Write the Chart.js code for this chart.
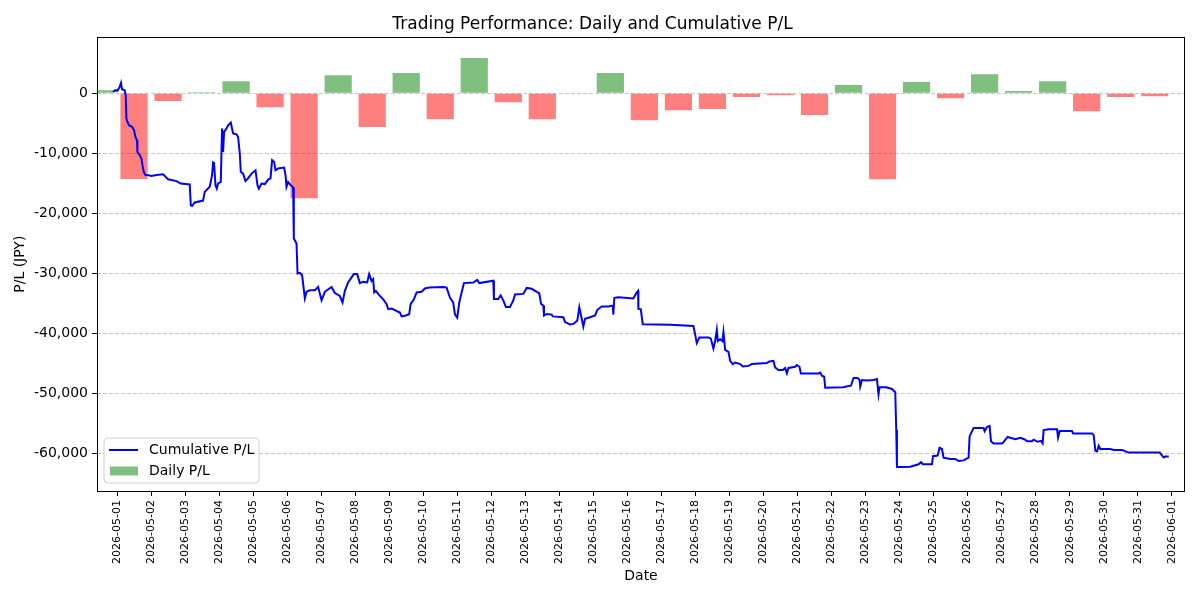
<!DOCTYPE html>
<html><head><meta charset="utf-8">
<script src="https://cdn.jsdelivr.net/npm/chart.js@4.4.1/dist/chart.umd.min.js"></script>
<style>html,body{margin:0;padding:0;background:#fff;}#wrap{width:1200px;height:600px;}</style>
</head><body><div id="wrap"><canvas id="c" width="1200" height="600"></canvas></div>
<script>
const barDates = ['2026-04-30','2026-05-01','2026-05-02','2026-05-03','2026-05-04','2026-05-05','2026-05-06','2026-05-07','2026-05-08','2026-05-09','2026-05-10','2026-05-11','2026-05-12','2026-05-13','2026-05-14','2026-05-15','2026-05-16','2026-05-17','2026-05-18','2026-05-19','2026-05-20','2026-05-21','2026-05-22','2026-05-23','2026-05-24','2026-05-25','2026-05-26','2026-05-27','2026-05-28','2026-05-29','2026-05-30','2026-05-31'];
const dailyPL = [500,-14300,-1300,150,2000,-2350,-17500,3000,-5650,3350,-4350,5850,-1500,-4350,0,3350,-4500,-2850,-2650,-650,-350,-3650,1350,-14350,1850,-850,3150,350,2000,-3000,-650,-500];
const tickLabels = ['2026-05-01','2026-05-02','2026-05-03','2026-05-04','2026-05-05','2026-05-06','2026-05-07','2026-05-08','2026-05-09','2026-05-10','2026-05-11','2026-05-12','2026-05-13','2026-05-14','2026-05-15','2026-05-16','2026-05-17','2026-05-18','2026-05-19','2026-05-20','2026-05-21','2026-05-22','2026-05-23','2026-05-24','2026-05-25','2026-05-26','2026-05-27','2026-05-28','2026-05-29','2026-05-30','2026-05-31','2026-06-01'];
const yTicks = [0,-10000,-20000,-30000,-40000,-50000,-60000];
// cumulative P/L: time in days since 2026-05-01 00:00, value in JPY
const cumTimes = [-0.118,-0.047,0.012,0.079,0.118,0.147,0.226,0.256,0.276,0.306,0.353,0.441,0.5,0.541,0.588,0.6,0.668,0.718,0.747,0.785,0.835,0.894,1.012,1.159,1.353,1.432,1.5,1.747,1.874,2.138,2.168,2.206,2.285,2.529,2.579,2.726,2.794,2.824,2.853,2.894,2.932,2.971,3.05,3.088,3.118,3.147,3.218,3.265,3.344,3.412,3.512,3.559,3.609,3.638,3.706,3.776,3.853,3.953,4.071,4.129,4.168,4.247,4.344,4.441,4.512,4.559,4.618,4.659,4.735,4.912,4.953,4.982,5.029,5.109,5.176,5.197,5.276,5.306,5.374,5.441,5.521,5.571,5.668,5.815,5.912,6.012,6.109,6.306,6.403,6.55,6.629,6.697,6.794,6.894,6.962,7.059,7.138,7.235,7.353,7.412,7.482,7.529,7.559,7.609,7.706,7.824,7.924,7.971,8.071,8.218,8.315,8.365,8.462,8.588,8.629,8.726,8.806,8.953,9.05,9.176,9.588,9.688,9.785,9.882,9.932,10.0,10.059,10.129,10.197,10.471,10.588,10.647,11.059,11.079,11.206,11.276,11.353,11.432,11.55,11.647,11.697,11.941,12.041,12.188,12.412,12.462,12.529,12.55,12.629,12.776,12.806,13.118,13.168,13.315,13.412,13.529,13.588,13.659,13.706,13.756,13.903,14.05,14.118,14.247,14.441,14.571,14.588,14.618,14.735,15.176,15.276,15.315,15.324,15.394,15.453,16.256,16.941,16.991,17.041,17.118,17.382,17.453,17.529,17.579,17.629,17.659,17.726,17.794,17.824,17.874,17.971,18.021,18.1,18.168,18.315,18.394,18.559,18.659,19.0,19.1,19.176,19.294,19.344,19.441,19.571,19.638,19.688,19.735,19.932,19.982,20.059,20.1,20.618,20.668,20.718,20.785,20.815,21.353,21.432,21.571,21.647,21.765,21.824,21.844,21.894,22.041,22.235,22.335,22.382,22.412,22.609,22.776,22.874,22.903,22.924,23.071,23.315,23.559,23.629,23.688,23.953,23.982,24.118,24.176,24.247,24.294,24.491,24.638,24.735,24.882,25.029,25.059,25.176,25.471,25.5,25.571,25.647,25.688,25.765,26.012,26.079,26.176,26.403,26.55,26.697,26.747,26.894,26.941,27.059,27.159,27.206,27.235,27.382,27.629,27.659,27.706,28.071,28.1,28.659,28.706,28.756,28.806,28.853,28.9,29.194,29.294,29.541,29.638,29.735,30.647,30.718,30.765,30.815,30.912];
const cumValues = [200,500,400,1050,1700,650,500,-350,-4200,-4800,-5350,-5600,-6150,-7300,-7850,-9800,-10350,-10900,-12000,-13100,-13650,-13650,-13800,-13650,-13500,-13950,-14350,-14650,-15050,-15200,-18650,-18800,-18200,-17900,-16450,-15600,-13650,-11550,-11650,-15350,-15900,-15050,-14800,-5900,-9800,-6450,-5900,-5350,-4900,-6700,-6850,-7300,-10050,-13100,-13400,-14650,-14200,-13400,-12850,-15350,-15900,-15050,-15150,-14400,-14200,-11150,-11450,-12850,-12550,-12400,-13650,-15600,-14800,-15350,-15700,-24200,-25050,-30050,-29950,-30350,-34200,-33100,-32850,-32850,-32300,-34500,-33100,-32300,-33300,-33800,-34900,-32950,-31550,-30700,-30150,-30150,-31650,-31450,-31550,-30150,-31300,-31000,-33200,-32950,-33650,-34350,-35150,-36000,-35900,-36300,-36550,-37200,-37100,-36850,-35150,-34350,-33200,-33100,-32550,-32400,-32300,-32400,-34050,-34900,-36850,-37400,-34900,-33200,-31650,-31550,-31100,-31650,-31250,-34300,-34300,-33700,-34550,-35650,-35650,-34550,-33550,-33450,-32450,-32600,-33350,-35100,-35400,-37050,-36800,-36900,-37200,-37350,-38150,-38550,-38450,-37900,-35650,-37600,-38900,-37600,-37350,-37050,-36100,-35550,-35550,-35400,-36900,-34100,-34000,-34200,-33200,-32950,-35950,-36000,-38500,-38600,-38800,-40150,-41650,-40700,-40700,-40900,-42550,-41300,-39450,-41300,-41000,-41300,-39800,-42800,-43100,-44600,-45150,-44900,-45150,-45550,-45450,-45150,-45000,-44950,-44700,-44600,-45700,-46150,-46150,-45800,-46700,-45800,-45600,-45300,-45600,-46700,-46700,-46550,-47100,-47250,-49100,-49000,-48900,-48750,-47450,-47450,-47800,-48900,-47800,-47900,-47800,-47650,-50200,-49000,-49000,-49300,-49850,-56150,-62300,-62300,-62250,-61850,-61500,-61850,-61850,-60500,-60400,-59100,-59300,-60750,-60950,-60950,-61300,-61200,-60750,-57200,-55800,-55800,-56350,-55650,-55450,-58000,-58400,-58400,-58000,-57300,-57650,-57450,-57750,-58000,-58000,-57750,-58100,-57950,-58350,-56150,-56000,-56000,-57400,-56300,-56300,-56700,-56700,-57000,-59600,-59700,-58750,-59300,-59300,-59450,-59450,-59700,-59900,-59900,-60400,-60700,-60550,-60550];

const F = "'DejaVu Sans', sans-serif";
const DAY0 = Date.UTC(2026, 4, 1);
const dayOffset = s => (Date.parse(s + 'T00:00:00Z') - DAY0) / 864e5;

const framePlugin = {
  id: 'frame',
  afterDatasetsDraw(chart) {
    const {ctx, chartArea: a} = chart;
    ctx.save();
    ctx.strokeStyle = '#000';
    ctx.lineWidth = 1;
    const l = Math.round(a.left) + 0.5, t = Math.round(a.top) + 0.5;
    const r = Math.round(a.right) - 0.5, b = Math.round(a.bottom) + 0.5;
    ctx.strokeRect(l, t, r - l, b - t);
    ctx.restore();
  },
  afterDraw(chart) {
    const {ctx, chartArea: a} = chart;
    const ds = chart.data.datasets;
    const bx = a.left + 7, by = a.bottom - 53, bw = 155, bh = 45, rr = 4;
    ctx.save();
    ctx.beginPath();
    ctx.moveTo(bx + rr, by);
    ctx.arcTo(bx + bw, by, bx + bw, by + bh, rr);
    ctx.arcTo(bx + bw, by + bh, bx, by + bh, rr);
    ctx.arcTo(bx, by + bh, bx, by, rr);
    ctx.arcTo(bx, by, bx + bw, by, rr);
    ctx.closePath();
    ctx.fillStyle = 'rgba(255,255,255,0.8)';
    ctx.fill();
    ctx.strokeStyle = '#d0d0d0';
    ctx.lineWidth = 1;
    ctx.stroke();
    ctx.strokeStyle = ds[0].borderColor;
    ctx.lineWidth = 2;
    ctx.beginPath();
    ctx.moveTo(bx + 5, by + 12);
    ctx.lineTo(bx + 34, by + 12);
    ctx.stroke();
    ctx.fillStyle = 'rgba(0,128,0,0.5)';
    ctx.fillRect(bx + 6, by + 28.5, 28, 9);
    ctx.fillStyle = '#000';
    ctx.font = '14px ' + F;
    ctx.textBaseline = 'middle';
    ctx.textAlign = 'left';
    ctx.fillText(ds[0].label, bx + 45, by + 12.5);
    ctx.fillText(ds[1].label, bx + 45, by + 33.5);
    ctx.restore();
  }
};

new Chart(document.getElementById('c'), {
  type: 'bar',
  data: {
    datasets: [
      {
        type: 'line',
        label: 'Cumulative P/L',
        data: cumTimes.map((t, i) => ({x: t, y: cumValues[i]})),
        borderColor: '#0000ff',
        borderWidth: 2,
        pointRadius: 0,
        fill: false,
        tension: 0,
        order: 1
      },
      {
        type: 'bar',
        label: 'Daily P/L',
        data: barDates.map((d, i) => ({x: dayOffset(d) + 0.5, y: dailyPL[i]})),
        backgroundColor: dailyPL.map(v => v >= 0 ? 'rgba(0,128,0,0.5)' : 'rgba(255,0,0,0.5)'),
        borderWidth: 0,
        barPercentage: 0.8,
        categoryPercentage: 1,
        order: 2
      }
    ]
  },
  options: {
    responsive: false,
    animation: false,
    devicePixelRatio: 1,
    layout: {padding: {left: 0, right: 15, top: 0, bottom: 0}},
    plugins: {
      legend: {display: false},
      tooltip: {enabled: false},
      title: {
        display: true,
        text: 'Trading Performance: Daily and Cumulative P/L',
        color: '#000',
        font: {family: F, size: 17, weight: 'normal'},
        padding: {top: 14, bottom: 3}
      }
    },
    scales: {
      x: {
        type: 'linear',
        min: -0.588,
        max: 31.39,
        offset: false,
        afterBuildTicks: s => { s.ticks = tickLabels.map(l => ({value: dayOffset(l)})); },
        ticks: {
          autoSkip: false, maxRotation: 90, minRotation: 90, color: '#000',
          font: {family: F, size: 11}, padding: 4,
          callback: (v, i) => tickLabels[i]
        },
        grid: {display: true, offset: false, drawOnChartArea: false, tickLength: 5, tickColor: '#000', tickWidth: 1},
        border: {display: false},
        title: {display: true, text: 'Date', color: '#000', font: {family: F, size: 14}, padding: {top: 0, bottom: 15}},
        afterFit: s => { s.height = 109; }
      },
      y: {
        type: 'linear',
        min: -66300,
        max: 9300,
        afterBuildTicks: s => { s.ticks = yTicks.map(v => ({value: v})); },
        ticks: {
          color: '#000', font: {family: F, size: 14}, padding: 4,
          callback: v => Number(v).toLocaleString('en-US')
        },
        grid: {color: '#c8c8c8', lineWidth: 1, tickLength: 5, tickColor: '#000', tickWidth: 1, tickBorderDash: [0, 0]},
        border: {display: false, dash: [4, 2]},
        title: {display: true, text: 'P/L (JPY)', color: '#000', font: {family: F, size: 14}, padding: {top: 12, bottom: 0}},
        afterFit: s => { s.width = 97; }
      }
    }
  },
  plugins: [framePlugin]
});
</script>
</body></html>
